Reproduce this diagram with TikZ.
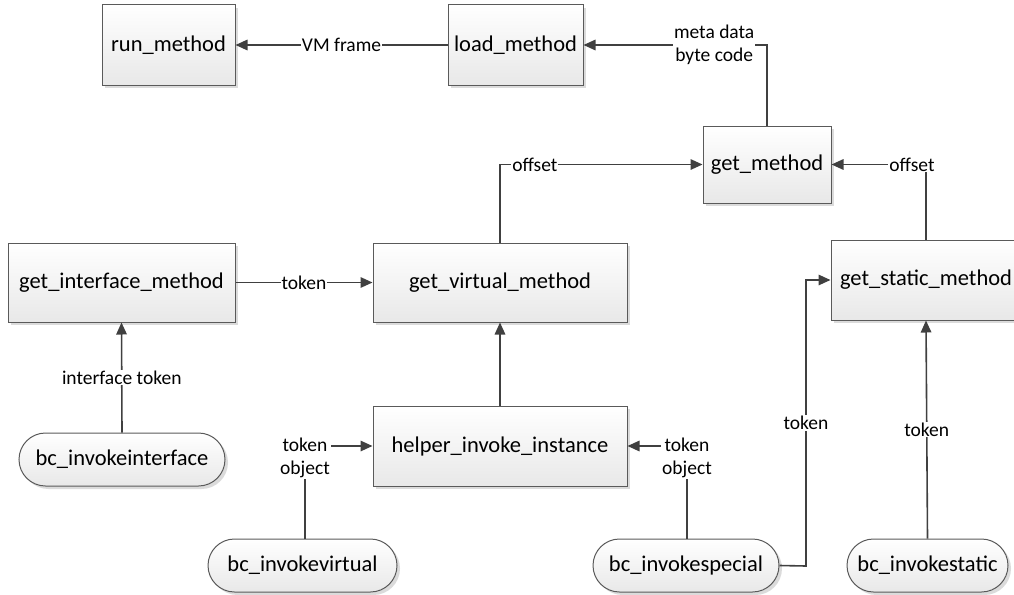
\documentclass[tikz,border=0pt]{standalone}
\usepackage{fontspec}
\setmainfont{Carlito}
\usetikzlibrary{arrows.meta,shapes.misc,shadows}
\definecolor{linec}{HTML}{404040}
\definecolor{edgec}{HTML}{5A5A5A}
\begin{document}
\begin{tikzpicture}[x=1pt,y=-1pt,
  base/.style={draw=edgec, line width=1pt, top color=white, bottom color=black!9,
    font=\fontsize{22.5}{26}\selectfont, inner sep=0pt,
    drop shadow={shadow xshift=3pt, shadow yshift=-3pt, fill=black!14, opacity=1}},
  procbox/.style={base, rectangle},
  termbox/.style={base, rounded rectangle},
  lbl/.style={fill=white, inner sep=1pt, font=\fontsize{19.5}{23}\selectfont, align=center},
  wire/.style={draw=linec, line width=1.6pt},
  arr/.style={wire, -{Triangle[length=12pt,width=10.5pt]}}]
\useasboundingbox (0,0) rectangle (1014,594);

% method boxes
\node[procbox, minimum width=133pt, minimum height=80pt] (run)    at (168.5,45)  {run\_method};
\node[procbox, minimum width=135pt, minimum height=80pt] (load)   at (515.5,45)  {load\_method};
\node[procbox, minimum width=128pt, minimum height=77pt] (getm)   at (767,164.5) {get\_method};
\node[procbox, minimum width=227pt, minimum height=79pt] (gim)    at (121.5,282.5) {get\_interface\_method};
\node[procbox, minimum width=254pt, minimum height=79pt] (gvm)    at (500,282.5) {get\_virtual\_method};
\node[procbox, minimum width=190pt, minimum height=80pt] (gsm)    at (926,280)   {get\_static\_method};
\node[procbox, minimum width=254pt, minimum height=80pt] (helper) at (500,446)   {helper\_invoke\_instance};

% bytecode entry points
\node[termbox, minimum width=206pt, minimum height=53pt] (bii)  at (122,459.5)   {bc\_invokeinterface};
\node[termbox, minimum width=189pt, minimum height=53pt] (biv)  at (302.5,565.5) {bc\_invokevirtual};
\node[termbox, minimum width=186pt, minimum height=53pt] (bis)  at (686,565.5)   {bc\_invokespecial};
\node[termbox, minimum width=161pt, minimum height=53pt] (bist) at (927.5,565.5) {bc\_invokestatic};

% data flow
\draw[arr] (load.west) -- node[lbl] {VM frame} (run.east);
\draw[arr] (getm.north) |- node[lbl, pos=0.644] {meta data\\byte code} (load.east);
\draw[arr] (gvm.north) |- node[lbl, pos=0.586] {offset} (getm.west);
\draw[arr] (gsm.north) |- node[lbl, pos=0.574] {offset} (getm.east);
\draw[arr] (gim.east) -- node[lbl] {token} (gvm.west);
\draw[arr] (bii.north) -- node[lbl] {interface token} (gim.south);
\draw[arr] (helper.north) -- (gvm.south);
\draw[arr] (biv.north -| 305,0) |- node[lbl, pos=0.5, yshift=-12pt] {token\\object} (helper.west);
\draw[arr] (bis.north -| 687,0) |- node[lbl, pos=0.5, yshift=-12pt] {token\\object} (helper.east);
\coordinate (bend) at (806,566);
\draw[arr] (bis.east) -- (bend) |- node[lbl, pos=0.25] {token} (gsm.west);
\draw[arr] (bist.north) -- node[lbl] {token} (gsm.south);
\end{tikzpicture}
\end{document}
